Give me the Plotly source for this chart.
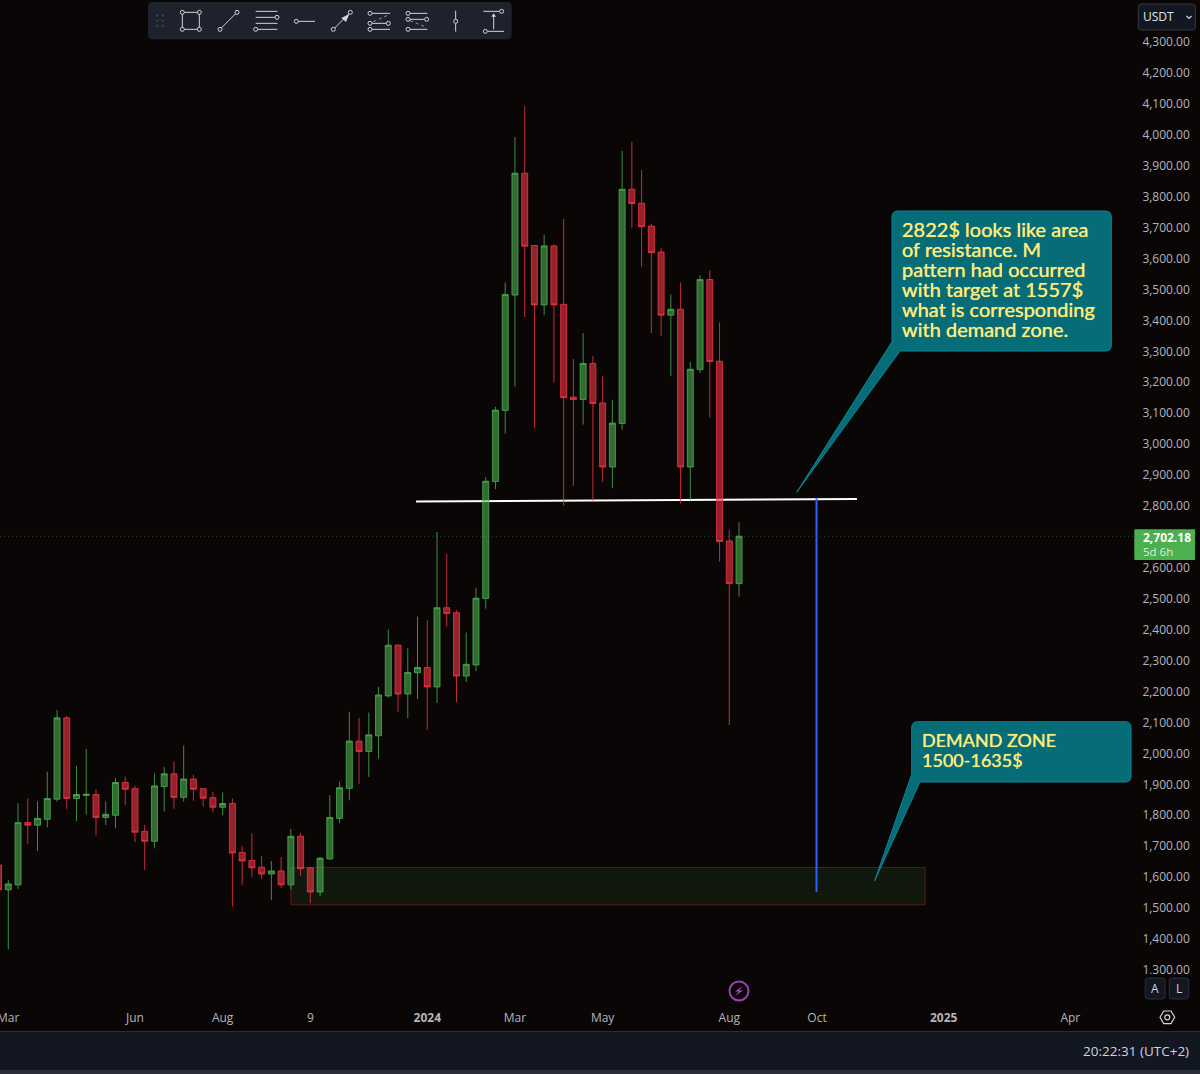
import plotly.graph_objects as go

opens = [1639,1559,1575,1777,1768,1787,1852,2115,1854,1864,1867,1793,1800,1906,1886,1748,1716,1893,1934,1858,1917,1886,1857,1826,1838,1680,1654,1632,1610,1620,1575,1732,1630,1552,1659,1790,1887,2040,2006,2057,2186,2350,2192,2261,2278,2215,2471,2455,2250,2286,2501,2879,3109,3482,3876,3642,3450,3641,3452,3152,3144,3261,3133,2926,3067,3824,3779,3705,3621,3417,3436,2926,3241,3532,3268,2687,2549]
closes = [1559,1578,1776,1768,1790,1854,2115,1854,1867,1868,1793,1803,1906,1884,1745,1716,1895,1934,1858,1917,1884,1855,1826,1838,1678,1652,1630,1610,1620,1575,1732,1627,1552,1661,1793,1889,2040,2006,2060,2189,2350,2192,2262,2278,2215,2471,2452,2250,2288,2502,2880,3110,3484,3876,3640,3450,3641,3450,3150,3144,3261,3131,2926,3068,3824,3778,3703,3619,3417,3436,2926,3242,3532,3267,2685,2549,2702.18]
highs = [1660,1591,1839,1855,1845,1941,2140,2121,1960,2014,1884,1845,1920,1925,1896,1769,1935,1956,1973,2025,1931,1887,1876,1874,1854,1701,1742,1668,1652,1665,1756,1743,1633,1665,1865,1909,2134,2115,2132,2215,2401,2353,2340,2442,2430,2716,2645,2463,2391,2535,2893,3121,3523,3993,4093,3642,3677,3646,3728,3275,3359,3285,3220,3143,3948,3977,3886,3712,3635,3484,3523,3266,3546,3562,3394,2722,2748]
lows = [1540,1367,1562,1707,1685,1761,1844,1821,1781,1802,1735,1768,1758,1834,1713,1623,1693,1812,1821,1844,1847,1828,1809,1800,1504,1575,1601,1594,1526,1565,1559,1604,1516,1539,1655,1774,1848,1902,1924,1983,2180,2134,2114,2176,2076,2163,2410,2166,2231,2266,2468,2855,3034,3186,3411,3053,3417,3199,2800,2865,3063,2817,2878,2858,3047,3700,3572,3359,3350,3220,2808,2819,3230,3086,2620,2092,2507]
candle_index = list(range(len(opens)))

price_ticks = [p for p in range(1300, 4301, 100) if p != 2700]
time_tick_index = [14, 23, 32, 44, 53, 62, 75, 84, 97, 110]
time_tick_labels = ["Jun", "Aug", "9", "<b>2024</b>", "Mar", "May", "Aug", "Oct", "<b>2025</b>", "Apr"]

zone_low, zone_high = 1510, 1631
zone_start, zone_end = 30.0, 95.1
resistance_start, resistance_end = 42.85, 88.1
resistance_left, resistance_right = 2814.5, 2822.6
target_index, target_low, target_high = 83.95, 1552, 2824

note_one = ["2822$ looks like area", "of resistance. M", "pattern had occurred",
            "with target at 1557$", "what is corresponding", "with demand zone."]
note_two = ["DEMAND ZONE", "1500-1635$"]

BG = "#0A0606"
W, H = 1200, 1074
PLOT_W, PLOT_H = 1135, 1003
NOTE_FONT = "Lato"
TICK_FONT = "Open Sans"
NOTE_COLOR = "#FDEB7A"


def fx(px):
    return px / PLOT_W


def fy(py):
    return 1 - py / PLOT_H


def rounded(x0, y0, x1, y1, r):
    return (f"M{fx(x0+r)},{fy(y0)} L{fx(x1-r)},{fy(y0)} Q{fx(x1)},{fy(y0)} {fx(x1)},{fy(y0+r)} "
            f"L{fx(x1)},{fy(y1-r)} Q{fx(x1)},{fy(y1)} {fx(x1-r)},{fy(y1)} L{fx(x0+r)},{fy(y1)} "
            f"Q{fx(x0)},{fy(y1)} {fx(x0)},{fy(y1-r)} L{fx(x0)},{fy(y0+r)} Q{fx(x0)},{fy(y0)} {fx(x0+r)},{fy(y0)} Z")


def poly(points, close=True):
    s = "M" + " L".join(f"{fx(a)},{fy(b)}" for a, b in points)
    return s + (" Z" if close else "")


def callout(x0, y0, x1, y1, r, base_left_y, tip, base_right_x):
    p = f"M{fx(x0+r)},{fy(y0)} L{fx(x1-r)},{fy(y0)} Q{fx(x1)},{fy(y0)} {fx(x1)},{fy(y0+r)} "
    p += f"L{fx(x1)},{fy(y1-r)} Q{fx(x1)},{fy(y1)} {fx(x1-r)},{fy(y1)} "
    p += f"L{fx(base_right_x)},{fy(y1)} L{fx(tip[0])},{fy(tip[1])} L{fx(x0)},{fy(base_left_y)} "
    p += f"L{fx(x0)},{fy(y0+r)} Q{fx(x0)},{fy(y0)} {fx(x0+r)},{fy(y0)} Z"
    return p


shapes = []


def paper_path(path, fill="rgba(0,0,0,0)", line="rgba(0,0,0,0)", width=1, dash=None):
    ln = dict(color=line, width=width)
    if dash:
        ln["dash"] = dash
    shapes.append(dict(type="path", xref="paper", yref="paper", path=path, fillcolor=fill, line=ln, layer="above"))


def paper_rect(x0, y0, x1, y1, fill):
    shapes.append(dict(type="rect", xref="paper", yref="paper", x0=fx(x0), x1=fx(x1), y0=fy(y1), y1=fy(y0),
                       fillcolor=fill, line=dict(width=0), layer="above"))


# data anchored drawings
shapes.append(dict(type="rect", xref="x", yref="y", x0=zone_start, x1=zone_end, y0=zone_low, y1=zone_high,
                   fillcolor="rgba(76,175,80,0.10)", line=dict(color="rgba(130,25,35,0.75)", width=1), layer="below"))
shapes.append(dict(type="line", xref="x", yref="y", x0=resistance_start, x1=resistance_end,
                   y0=resistance_left, y1=resistance_right, line=dict(color="#FFFFFF", width=2), layer="below"))
shapes.append(dict(type="line", xref="x", yref="y", x0=target_index, x1=target_index, y0=target_low, y1=target_high,
                   line=dict(color="#2962FF", width=2), layer="above"))
shapes.append(dict(type="line", xref="paper", yref="y", x0=0, x1=1, y0=closes[-1], y1=closes[-1],
                   line=dict(color="rgba(76,175,80,0.45)", width=1, dash="1px,3px"), layer="below"))

# price axis furniture
paper_rect(1135, 974, 1200, 1031, BG)
paper_path(rounded(1134.3, 529.3, 1195, 560, 1), fill="#4CAF50")
paper_path(rounded(1138.3, 4, 1195.3, 30, 3), fill="#131722", line="#363A45")
paper_path(poly([(1186.5, 16), (1189, 18.5), (1191.5, 16)], close=False), line="#D1D4DC", width=1.2)
paper_path(rounded(1145.3, 978, 1165, 999, 3), fill="#131722", line="#2A2E39")
paper_path(rounded(1169.3, 978, 1188.7, 999, 3), fill="#131722", line="#2A2E39")
# footer
paper_rect(0, 1031, W, 1070, "#131722")
paper_rect(0, 1031, W, 1032, "#2A2E39")
paper_rect(0, 1070, W, H, "#2A2E39")
# settings hexagon
paper_path(poly([(1160, 1017.3), (1163.7, 1011), (1171, 1011), (1174.7, 1017.3), (1171, 1023.6), (1163.7, 1023.6)]),
           line="#D1D4DC", width=1.2)
shapes.append(dict(type="circle", xref="paper", yref="paper", x0=fx(1164.8), x1=fx(1169.8), y0=fy(1019.8), y1=fy(1014.8),
                   line=dict(color="#D1D4DC", width=1.2), layer="above"))
# lightning
shapes.append(dict(type="circle", xref="paper", yref="paper", x0=fx(729.5), x1=fx(748.5), y0=fy(1000.5), y1=fy(981.5),
                   line=dict(color="#9C3FB0", width=2), fillcolor=BG, layer="above"))
paper_path(poly([(743, 986), (735, 991.5), (739, 991.5), (735, 996), (743, 990.5), (739, 990.5)]), fill="#B04CC6")

# callouts
paper_path(callout(892, 211, 1111.3, 351, 6, 341.7, (796.7, 492.3), 900), fill="#056C78", line="#0A8796", width=1)
paper_path(callout(911.7, 721.7, 1131, 782, 6, 774.3, (874.7, 880.7), 920), fill="#056C78", line="#0A8796", width=1)

# toolbar
paper_path(rounded(148, 2, 511.7, 39.3, 5), fill="#1E222D")
ICON = "#D1D4DC"


def zpt(z, zy):
    return 140 + z / 3, zy / 3


def zline(a, b, c, d, dash=None, width=1):
    paper_path(poly([zpt(a, b), zpt(c, d)], close=False), line=ICON if not dash else "#9598A1", width=width, dash=dash)


def zcircle(a, b):
    x, y = zpt(a, b)
    shapes.append(dict(type="circle", xref="paper", yref="paper", x0=fx(x-2), x1=fx(x+2), y0=fy(y+2), y1=fy(y-2),
                       line=dict(color=ICON, width=1), fillcolor="#1E222D", layer="above"))


for gx in (52, 68):
    for gy in (47, 62, 77):
        x, y = zpt(gx, gy)
        paper_rect(x-1, y-1, x+1, y+1, "#434651")
for a, b, c, d in [(127, 37, 178, 37), (127, 88, 178, 88), (127, 37, 127, 88), (178, 37, 178, 88),
                   (240, 88, 291, 37), (347, 34, 412, 34), (347, 52, 405, 52), (347, 70, 412, 70), (353, 88, 412, 88),
                   (475, 64, 525, 64), (580, 88, 631, 37), (696, 40, 750, 40), (696, 70, 740, 70), (696, 88, 750, 88),
                   (810, 40, 862, 40), (810, 58, 855, 58), (810, 88, 862, 88), (947, 32, 947, 58), (947, 70, 947, 95),
                   (1030, 34, 1079, 34), (1042, 94, 1092, 94), (1061, 88, 1061, 44)]:
    zline(a, b, c, d)
zline(700, 65, 745, 45, dash="dot")
zline(810, 62, 860, 82, dash="dot")
for a, b in [(127, 37), (178, 37), (127, 88), (178, 88), (240, 88), (291, 37), (411, 52), (347, 88), (469, 64),
             (580, 88), (631, 37), (690, 40), (690, 70), (745, 70), (690, 88), (804, 40), (804, 58), (860, 58),
             (804, 88), (947, 64), (1085, 34), (1036, 94)]:
    zcircle(a, b)
paper_path(poly([zpt(628, 42), zpt(604, 54), zpt(618, 66)]), fill=ICON)
paper_path(poly([zpt(1061, 40), zpt(1054, 50), zpt(1068, 50)]), fill=ICON)

annotations = []


def label(text, x, y, size, color, font=TICK_FONT, anchor="left", bold=False, height=None, shadow=None):
    if bold:
        text = f"<b>{text}</b>"
    fnt = dict(size=size, color=color, family=font)
    if shadow:
        fnt["shadow"] = shadow
    item = dict(text=text, xref="paper", yref="paper", x=fx(x - 1 if anchor == "left" else x), y=fy(y),
                xanchor=anchor, yanchor="middle", showarrow=False, borderpad=0, font=fnt)
    if height:
        item["height"] = height
    annotations.append(item)


THICK = f"0 0 0.7px {NOTE_COLOR}"
for i, line in enumerate(note_one):
    label(line, 902.3, 229 + 20 * i, 20, NOTE_COLOR, NOTE_FONT, shadow=THICK)
for i, line in enumerate(note_two):
    label(line, 922.3, 740 + 20 * i, 18, NOTE_COLOR, NOTE_FONT, shadow=THICK)
label("Mar", 8, 1017, 12, "#B2B5BE", anchor="center")
label("2,702.18", 1143, 537, 12, "#FFFFFF", bold=True, height=13)
label("5d 6h", 1143, 551, 11.5, "#DCEFDD", height=13)
label("USDT", 1143, 17, 12, "#E0E3EB")
label("A", 1155.2, 988.5, 12, "#D1D4DC", anchor="center")
label("L", 1179, 988.5, 12, "#D1D4DC", anchor="center")
label("20:22:31 (UTC+2)", 1189.5, 1051, 13.5, "#D1D4DC", anchor="right")

fig = go.Figure(go.Candlestick(
    x=candle_index, open=opens, high=highs, low=lows, close=closes,
    increasing=dict(line=dict(color="rgba(76,175,80,0.8)", width=1), fillcolor="rgba(76,175,80,0.6)"),
    decreasing=dict(line=dict(color="rgba(242,54,69,0.8)", width=1), fillcolor="rgba(242,54,69,0.6)"),
    whiskerwidth=0, hoverinfo="skip", showlegend=False))

fig.update_layout(
    width=W, height=H, margin=dict(l=0, r=W - PLOT_W, t=0, b=H - PLOT_H, pad=0),
    paper_bgcolor=BG, plot_bgcolor=BG, showlegend=False, hovermode=False, dragmode=False,
    boxgap=0.3, boxgroupgap=0.12,
    shapes=shapes, annotations=annotations,
    xaxis=dict(range=[0.148, 116.64], tickmode="array", tickvals=time_tick_index, ticktext=time_tick_labels,
               showgrid=False, zeroline=False, showline=False, ticks="outside", ticklen=4, tickcolor=BG,
               tickfont=dict(size=12, color="#B2B5BE", family=TICK_FONT), rangeslider=dict(visible=False), tickangle=0),
    yaxis=dict(range=[1193, 4436], side="right", tickmode="array", tickvals=price_ticks, tickformat=",.2f",
               showgrid=False, zeroline=False, showline=False, ticks="outside", ticklen=4, tickcolor=BG,
               tickfont=dict(size=12, color="#B2B5BE", family=TICK_FONT)),
)

fig.write_html("out.html", config=dict(displayModeBar=False, staticPlot=True),
               post_script="document.body.style.margin='0';document.body.style.overflow='hidden';document.body.style.background='#0A0606';")
